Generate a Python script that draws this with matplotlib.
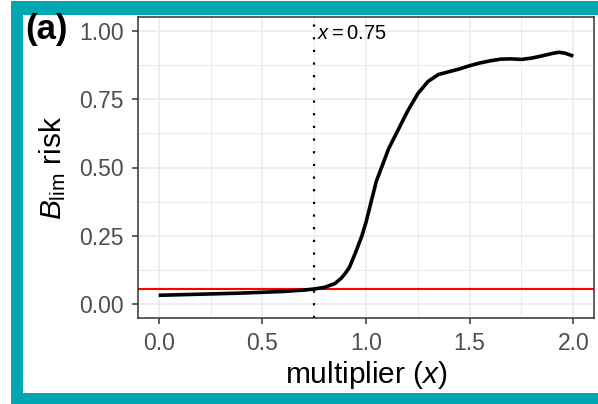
import matplotlib
matplotlib.use("Agg")
import matplotlib.pyplot as plt
from matplotlib.patches import Rectangle

plt.rcParams["font.family"] = ["Liberation Sans", "DejaVu Sans"]
plt.rcParams["mathtext.fontset"] = "custom"
plt.rcParams["mathtext.rm"] = "Liberation Sans"
plt.rcParams["mathtext.it"] = "Liberation Sans:italic"

# curve
multiplier = [0.0, 0.1, 0.2, 0.3, 0.4, 0.5, 0.6, 0.7, 0.75, 0.8, 0.85, 0.88,
              0.9, 0.92, 0.95, 0.98, 1.0, 1.02, 1.05, 1.08, 1.11, 1.15, 1.2,
              1.25, 1.3, 1.35, 1.4, 1.45, 1.5, 1.55, 1.6, 1.65, 1.7, 1.75,
              1.8, 1.85, 1.9, 1.93, 1.96, 2.0]
blim_risk = [0.033, 0.035, 0.037, 0.039, 0.041, 0.044, 0.047, 0.052, 0.056,
             0.062, 0.076, 0.095, 0.113, 0.135, 0.19, 0.25, 0.30, 0.36, 0.45,
             0.51, 0.57, 0.63, 0.705, 0.77, 0.815, 0.84, 0.85, 0.86, 0.872,
             0.882, 0.89, 0.896, 0.897, 0.895, 0.90, 0.908, 0.917, 0.921,
             0.918, 0.907]
threshold = 0.057
x_chosen = 0.75
xticks = [0.0, 0.5, 1.0, 1.5, 2.0]
yticks = [0.0, 0.25, 0.5, 0.75, 1.0]

W, H = 598, 404
fig = plt.figure(figsize=(W / 100, H / 100), dpi=100)

# teal frame around the panel (cropped on the right)
teal = "#00A6B2"
fig.patches.append(Rectangle((11 / W, 0), 1 - 11 / W, 1 - 1 / H, transform=fig.transFigure,
                             facecolor=teal, edgecolor="none", zorder=-2))
fig.patches.append(Rectangle((23 / W, 11 / H), 1 - 23 / W, (393 - 15) / H,
                             transform=fig.transFigure, facecolor="white",
                             edgecolor="none", zorder=-1))

ax = fig.add_axes([138 / W, 1 - 318 / H, 456 / W, 301 / H])
ax.set_zorder(2)
ax.set_xlim(-0.1, 2.1)
ax.set_ylim(-0.05, 1.05)

# ggplot-style grid
for v in [0.25, 0.75, 1.25, 1.75]:
    ax.axvline(v, color="#EBEBEB", lw=0.7, zorder=0)
for v in [0.125, 0.375, 0.625, 0.875]:
    ax.axhline(v, color="#EBEBEB", lw=0.7, zorder=0)
for v in xticks:
    ax.axvline(v, color="#EBEBEB", lw=1.2, zorder=0)
for v in yticks:
    ax.axhline(v, color="#EBEBEB", lw=1.2, zorder=0)

ax.axhline(threshold, color="#FF0000", lw=1.5, zorder=2)
ax.axvline(x_chosen, color="black", lw=1.6, linestyle=(0, (1, 4.7)),
           dash_capstyle="butt", zorder=2)
ax.plot(multiplier, blim_risk, color="black", lw=2.6, zorder=3,
        solid_capstyle="butt")
ax.text(x_chosen + 0.015, 0.99, r"$x = 0.75$", fontsize=14.5, va="center", ha="left")

ax.set_xticks(xticks)
ax.set_xticklabels([f"{v:.1f}" for v in xticks])
ax.set_yticks(yticks)
ax.set_yticklabels([f"{v:.2f}" for v in yticks])
ax.tick_params(axis="both", labelsize=16.5, labelcolor="#4D4D4D", color="#333333",
               length=4, width=1.1, pad=6)
for s in ax.spines.values():
    s.set_color("#333333")
    s.set_linewidth(1.1)

ax.set_xlabel(r"multiplier $(x)$", fontsize=21.5, labelpad=3)
ax.set_ylabel(r"$B_{\mathrm{lim}}$ risk", fontsize=21.5, labelpad=8)

fig.text(25 / W, 1 - 13 / H, "(a)", fontsize=25, fontweight="bold", va="top", ha="left")

fig.savefig("out.png", dpi=100)
